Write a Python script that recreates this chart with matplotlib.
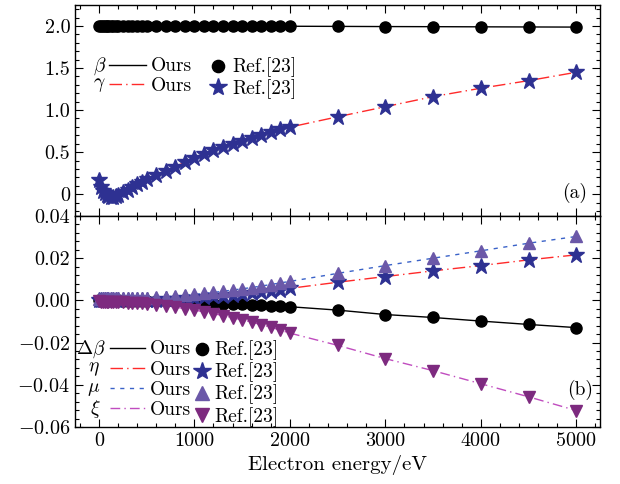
import matplotlib
matplotlib.use("Agg")
import matplotlib.pyplot as plt
from matplotlib.ticker import MultipleLocator, FixedLocator, FixedFormatter

plt.rcParams["font.family"] = "serif"
plt.rcParams["font.serif"] = ["cmr10", "DejaVu Serif"]
plt.rcParams["mathtext.fontset"] = "cm"
plt.rcParams["axes.unicode_minus"] = False

# electron energy (eV) of the Ref.[23] points
energy = [0, 20, 40, 60, 80, 100, 125, 150, 175, 200, 250, 300, 350, 400, 450, 500,
          600, 700, 800, 900, 1000, 1100, 1200, 1300, 1400, 1500, 1600, 1700, 1800,
          1900, 2000, 2500, 3000, 3500, 4000, 4500, 5000]

# panel (a)
beta = [2.0, 2.0, 2.0, 2.0, 2.0, 2.0, 2.0, 2.0, 2.0, 2.0, 2.0, 2.0, 2.0, 2.0, 2.0, 2.0,
        1.9997, 1.9996, 1.9995, 1.9993, 1.9991, 1.9989, 1.9987, 1.9985, 1.9983, 1.9981,
        1.9979, 1.9977, 1.9975, 1.9972, 1.997, 1.9954, 1.9933, 1.9919, 1.9902, 1.9886,
        1.9871]
gamma = [0.17, 0.09, 0.04, 0.01, -0.01, -0.02, -0.03, -0.03, -0.025, -0.01, 0.02, 0.05,
         0.08, 0.12, 0.15, 0.18, 0.23, 0.28, 0.325, 0.38, 0.435, 0.474, 0.521, 0.561,
         0.592, 0.631, 0.671, 0.702, 0.742, 0.77, 0.797, 0.92, 1.04, 1.16, 1.26, 1.35,
         1.45]

# panel (b)
dbeta = [0.0, 0.0, 0.0, 0.0, 0.0, 0.0, 0.0, 0.0, 0.0, 0.0, -0.0001, -0.0001, -0.0001,
         -0.0002, -0.0002, -0.0002, -0.0003, -0.0004, -0.0005, -0.0007, -0.0009, -0.0011,
         -0.0013, -0.0015, -0.0017, -0.0019, -0.0021, -0.0023, -0.0025, -0.0028, -0.003,
         -0.0046, -0.0067, -0.0081, -0.0098, -0.0114, -0.0129]
eta = [0.0, 0.0001, 0.0001, 0.0001, 0.0001, 0.0001, 0.0001, 0.0001, 0.0001, 0.0001,
       0.0001, 0.0002, 0.0002, 0.0002, 0.0002, 0.0003, 0.0004, 0.0006, 0.0008, 0.001,
       0.0013, 0.0016, 0.0019, 0.0023, 0.0027, 0.0031, 0.0036, 0.0041, 0.0046, 0.0051,
       0.0057, 0.0086, 0.0113, 0.014, 0.0165, 0.0192, 0.0216]
mu = [0.0005, 0.0009, 0.001, 0.001, 0.001, 0.001, 0.001, 0.001, 0.001, 0.001, 0.001,
      0.0011, 0.0011, 0.0012, 0.0012, 0.0012, 0.0014, 0.0017, 0.002, 0.0024, 0.0028,
      0.0033, 0.0038, 0.0043, 0.0049, 0.0055, 0.0061, 0.0068, 0.0075, 0.0083, 0.009,
      0.0128, 0.0165, 0.02, 0.0235, 0.0271, 0.0303]
xi = [-0.0005, -0.0007, -0.0008, -0.0008, -0.0008, -0.0008, -0.0008, -0.0008, -0.0008,
      -0.0008, -0.0009, -0.001, -0.0011, -0.0012, -0.0013, -0.0015, -0.002, -0.0026,
      -0.0032, -0.0039, -0.0046, -0.0054, -0.0063, -0.0072, -0.0082, -0.0092, -0.0103,
      -0.0115, -0.0127, -0.0141, -0.0155, -0.0213, -0.0276, -0.0333, -0.0395, -0.0457,
      -0.0522]

RED = "#ff2a2a"
NAVY = "#2e3192"
BLUE = "#3a62c8"
PURPLE = "#6b58a8"
MAGENTA_LINE = "#c04cbf"
MAGENTA = "#7d2a7f"

TICK_FS = 14.5
LEG_FS = 14
LEG_KW = dict(loc="upper left", frameon=False, fontsize=LEG_FS, borderpad=0,
              borderaxespad=0, markerscale=1.1)

fig = plt.figure(figsize=(6.2, 4.84), dpi=100)
ax_a = fig.add_axes([0.121, 0.5537, 0.847, 0.436])
ax_b = fig.add_axes([0.121, 0.1178, 0.847, 0.4359], sharex=ax_a)

# ---- panel (a)
la1, = ax_a.plot(energy, beta, color="black", lw=1.0, zorder=2)
la2, = ax_a.plot(energy, gamma, color=RED, lw=1.0, dashes=(9, 3, 1, 3), zorder=2)
ma1, = ax_a.plot(energy, beta, ls="none", marker="o", ms=8, color="black", zorder=3)
ma2, = ax_a.plot(energy, gamma, ls="none", marker="*", ms=12, color=NAVY, zorder=3)
ax_a.set_ylim(-0.26, 2.25)
ax_a.yaxis.set_major_locator(FixedLocator([0, 0.5, 1.0, 1.5, 2.0]))
ax_a.yaxis.set_major_formatter(FixedFormatter(["0", "0.5", "1.0", "1.5", "2.0"]))
ax_a.yaxis.set_minor_locator(MultipleLocator(0.1))
ax_a.tick_params(labelbottom=False)
leg = ax_a.legend([la1, la2], ["Ours", "Ours"], bbox_to_anchor=(0.064, 0.751),
                  handlelength=1.9, handletextpad=0.25, labelspacing=0.09, **LEG_KW)
ax_a.add_artist(leg)
ax_a.legend([ma1, ma2], ["Ref.[23]", "Ref.[23]"], bbox_to_anchor=(0.254, 0.751),
            handlelength=1.0, handletextpad=0.24, labelspacing=0.09, **LEG_KW)
ax_a.text(0.059, 0.711, r"$\beta$", transform=ax_a.transAxes, fontsize=LEG_FS,
          ha="right", va="center")
ax_a.text(0.059, 0.621, r"$\gamma$", transform=ax_a.transAxes, fontsize=LEG_FS,
          ha="right", va="center")
ax_a.text(0.975, 0.109, "(a)", transform=ax_a.transAxes, fontsize=LEG_FS, ha="right",
          va="center")

# ---- panel (b)
lb1, = ax_b.plot(energy, dbeta, color="black", lw=1.0, zorder=2)
lb2, = ax_b.plot(energy, eta, color=RED, lw=1.0, dashes=(9, 3, 1, 3), zorder=2)
lb3, = ax_b.plot(energy, mu, color=BLUE, lw=1.0, dashes=(3, 4), zorder=2)
lb4, = ax_b.plot(energy, xi, color=MAGENTA_LINE, lw=1.0, dashes=(7, 3, 1, 3), zorder=2)
mb1, = ax_b.plot(energy, dbeta, ls="none", marker="o", ms=8, color="black", zorder=3)
mb2, = ax_b.plot(energy, eta, ls="none", marker="*", ms=12, color=NAVY, zorder=3)
mb3, = ax_b.plot(energy, mu, ls="none", marker="^", ms=9, color=PURPLE, zorder=3)
mb4, = ax_b.plot(energy, xi, ls="none", marker="v", ms=9, color=MAGENTA, zorder=3)
ax_b.set_ylim(-0.06, 0.04)
yt = [-0.06, -0.04, -0.02, 0.0, 0.02, 0.04]
ax_b.yaxis.set_major_locator(FixedLocator(yt))
ax_b.yaxis.set_major_formatter(FixedFormatter(
    [r"$-0.06$", r"$-0.04$", r"$-0.02$", "0.00", "0.02", "0.04"]))
ax_b.yaxis.set_minor_locator(MultipleLocator(0.004))
leg = ax_b.legend([lb1, lb2, lb3, lb4], ["Ours"] * 4, bbox_to_anchor=(0.067, 0.41),
                  handlelength=1.8, handletextpad=0.25, labelspacing=0.12, **LEG_KW)
ax_b.add_artist(leg)
ax_b.legend([mb1, mb2, mb3, mb4], ["Ref.[23]"] * 4, bbox_to_anchor=(0.2234, 0.41),
            handlelength=1.0, handletextpad=0.12, labelspacing=0.12, **LEG_KW)
for xx, yy, s in zip([0.030, 0.036, 0.036, 0.038], [0.37, 0.275, 0.18, 0.085],
                     [r"$\Delta\beta$", r"$\eta$", r"$\mu$", r"$\xi$"]):
    ax_b.text(xx, yy, s, transform=ax_b.transAxes, fontsize=LEG_FS, ha="center",
              va="center")
ax_b.text(0.987, 0.175, "(b)", transform=ax_b.transAxes, fontsize=LEG_FS, ha="right",
          va="center")

ax_b.set_xlim(-250, 5250)
ax_b.xaxis.set_major_locator(MultipleLocator(1000))
ax_b.xaxis.set_minor_locator(MultipleLocator(200))
ax_b.set_xlabel("Electron energy/eV", fontsize=15)

for ax in (ax_a, ax_b):
    ax.tick_params(which="both", direction="in", top=True, right=True,
                   labelsize=TICK_FS, width=0.8)
    ax.tick_params(which="major", length=6)
    ax.tick_params(which="minor", length=3)
    for sp in ax.spines.values():
        sp.set_linewidth(1.0)

fig.savefig("out.png", dpi=100)
